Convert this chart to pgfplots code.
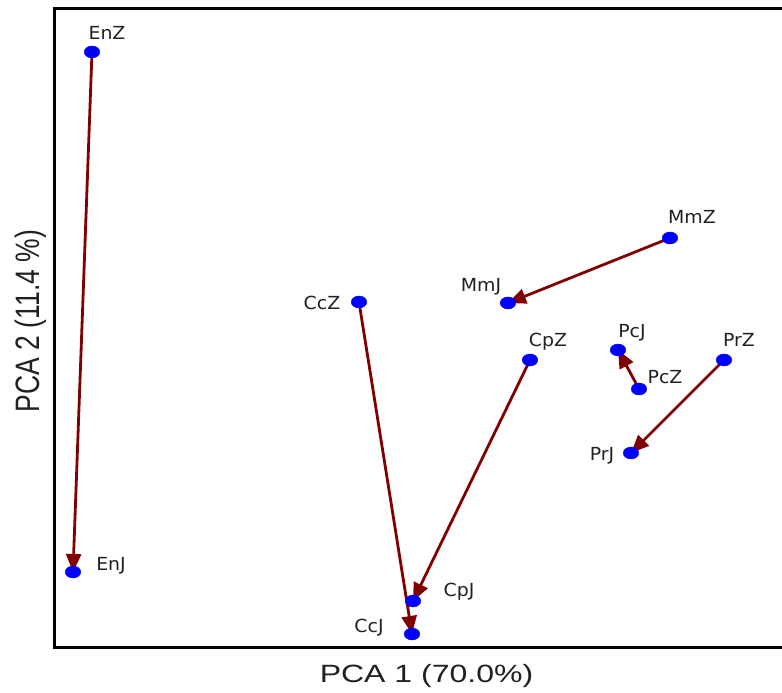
\documentclass[border=0pt]{standalone}
\usepackage{fontspec}
\setmainfont{Liberation Sans}
\newfontfamily\dejavu{DejaVu Sans}
\usepackage{pgfplots}
\pgfplotsset{compat=1.18}
\usetikzlibrary{arrows.meta}
\definecolor{arrowred}{RGB}{128,0,0}
\definecolor{ptblue}{RGB}{0,0,255}
\definecolor{txt}{RGB}{32,32,32}
\tikzset{lab/.style={font=\dejavu\fontsize{18}{21}\selectfont, text=txt, text height=13.1pt, text depth=0pt, inner sep=0pt, anchor=center, xscale=1.05}}
\begin{document}
\begin{tikzpicture}
\begin{axis}[name=ax, x=1pt, y=1pt, xmin=55, xmax=782, ymin=45, ymax=684,
  axis x line=box, axis y line=left,
  axis line style={line width=3pt, -, line cap=rect},
  every outer x axis line/.append style={-},
  every outer y axis line/.append style={-},
  xtick=\empty, ytick=\empty, clip=false,
  xlabel={PCA 1 (70.0\%)}, ylabel={PCA 2 (11.4 \%)},
  every axis x label/.style={at={(axis description cs:0.511,-0.0407)}, anchor=center, xscale=1.28, font=\fontsize{25}{30}\selectfont, text=txt, text height=17.9pt, text depth=0pt, inner sep=0pt},
  every axis y label/.style={at={(axis description cs:-0.0378,0.5117)}, anchor=center, xscale=1.28, rotate=90, font=\fontsize{26.5}{30}\selectfont, text=txt, text height=19pt, text depth=0pt, inner sep=0pt},
]
\addplot[only marks, mark=*, mark size=6pt, mark options={fill=ptblue, draw=ptblue, xscale=1.3}] coordinates {
(92,641) (73,121) (359,391) (412,59) (530,333) (413,92)
(670,455) (508,390) (639,304) (618,343) (724,333) (631,240)};
\addplot[arrowred, line width=2.8pt, -{Triangle[length=18pt, width=15pt]}] coordinates {(92,641) (73,121)};
\addplot[arrowred, line width=2.8pt, -{Triangle[length=18pt, width=15pt]}] coordinates {(359,391) (412,59)};
\addplot[arrowred, line width=2.8pt, -{Triangle[length=18pt, width=15pt]}] coordinates {(530,333) (413,92)};
\addplot[arrowred, line width=2.8pt, -{Triangle[length=18pt, width=15pt]}] coordinates {(670,455) (508,390)};
\addplot[arrowred, line width=2.8pt, -{Triangle[length=18pt, width=15pt]}] coordinates {(639,304) (618,343)};
\addplot[arrowred, line width=2.8pt, -{Triangle[length=18pt, width=15pt]}] coordinates {(724,333) (631,240)};
\node[lab] at (axis cs:107,660) {EnZ};
\node[lab] at (axis cs:111,129) {EnJ};
\node[lab] at (axis cs:322,390) {CcZ};
\node[lab] at (axis cs:369,67) {CcJ};
\node[lab] at (axis cs:459,103) {CpJ};
\node[lab] at (axis cs:548,353) {CpZ};
\node[lab] at (axis cs:692,476) {MmZ};
\node[lab] at (axis cs:481,408) {MmJ};
\node[lab] at (axis cs:632,362) {PcJ};
\node[lab] at (axis cs:665,316) {PcZ};
\node[lab] at (axis cs:739,353) {PrZ};
\node[lab] at (axis cs:602,239) {PrJ};
\end{axis}
\pgfresetboundingbox
\path ([shift={(-55pt,-45pt)}]ax.south west) rectangle ([shift={(727pt,648pt)}]ax.south west);
\end{tikzpicture}
\end{document}
